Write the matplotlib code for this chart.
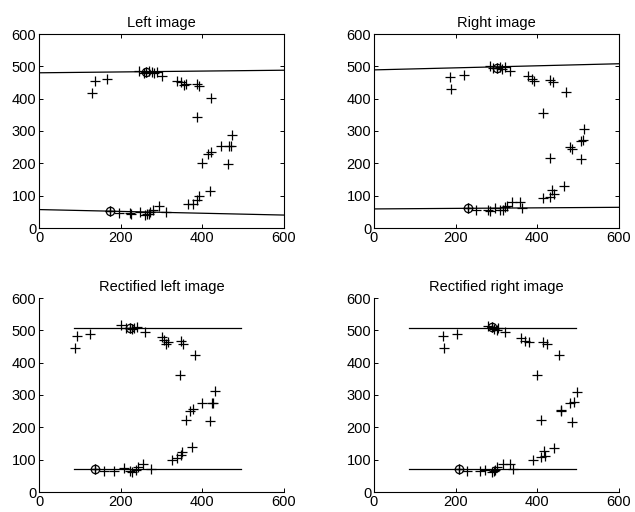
import numpy as np
import matplotlib.pyplot as plt

plt.rcParams['font.family'] = ['Liberation Sans', 'DejaVu Sans']
plt.rcParams['font.size'] = 10.5

# matched points, left image
lx = [130, 138, 167, 244, 257, 263, 270, 276, 282, 288, 300, 338, 347, 355, 359, 386, 393, 421, 387,
      473, 445, 466, 470, 420, 414, 400, 463, 418, 393, 388, 376, 366,
      173, 196, 222, 226, 247, 259, 264, 269, 273, 278, 294, 312]
ly = [418, 454, 461, 486, 480, 483, 486, 482, 478, 484, 470, 454, 452, 441, 444, 444, 439, 403, 342,
      288, 254, 254, 254, 236, 229, 200, 197, 115, 98, 87, 75, 75,
      53, 46, 45, 43, 49, 40, 42, 44, 50, 57, 67, 50]
# matched points, right image
rx = [185, 188, 220, 285, 292, 300, 308, 314, 320, 333, 378, 388, 392, 431, 439, 471, 414,
      515, 508, 513, 480, 484, 431, 506, 466, 435, 441, 432, 414,
      230, 251, 280, 285, 296, 309, 316, 321, 325, 337, 357, 363]
ry = [466, 431, 474, 500, 495, 495, 498, 493, 497, 487, 469, 461, 456, 459, 452, 420, 356,
      306, 270, 273, 250, 244, 215, 213, 131, 119, 105, 96, 92,
      61, 57, 57, 54, 63, 57, 55, 65, 67, 79, 81, 62]
# rectified left
rlx = [87, 94, 124, 202, 214, 222, 228, 233, 239, 259, 302, 307, 316, 312, 347, 353, 383, 345,
       431, 400, 423, 427, 376, 371, 359, 419, 375, 351, 347, 337, 326,
       137, 159, 184, 208, 222, 228, 237, 243, 255, 274]
rly = [445, 481, 488, 515, 508, 508, 503, 506, 510, 494, 479, 471, 463, 459, 466, 458, 423, 363,
       311, 275, 275, 275, 256, 251, 223, 220, 139, 124, 113, 106, 98,
       71, 66, 64, 74, 64, 62, 69, 77, 87, 71]
# rectified right
rrx = [169, 172, 204, 278, 288, 294, 300, 303, 320, 361, 371, 379, 414, 424, 454, 398,
       496, 480, 490, 459, 457, 410, 484, 441, 417, 418, 410, 390,
       208, 228, 259, 271, 290, 293, 296, 300, 316, 334, 341]
rry = [482, 445, 488, 513, 510, 505, 500, 507, 495, 477, 468, 465, 464, 458, 424, 363,
       310, 274, 277, 254, 249, 223, 218, 137, 126, 111, 108, 98,
       71, 64, 64, 69, 62, 66, 69, 77, 88, 88, 71]

# selected points (circled)
circ_l = ([173, 263], [53, 483])
circ_r = ([230, 300], [61, 495])
circ_rl = ([137, 222], [71, 508])
circ_rr = ([208, 288], [71, 510])

# epipolar lines (x ends, y ends)
lines_l = [([0, 600], [480, 488]), ([0, 600], [57, 40])]
lines_r = [([0, 600], [489, 508]), ([0, 600], [59, 64])]
lines_rl = [([85, 495], [507, 507]), ([85, 495], [70, 70])]
lines_rr = [([85, 495], [507, 507]), ([85, 495], [70, 70])]

fig = plt.figure(figsize=(6.35, 5.12), dpi=100)
W, H = 635.0, 512.0
boxes = [(39, 34), (374, 34), (39, 298), (374, 298)]
panels = [
    ('Left image', lx, ly, circ_l, lines_l, True),
    ('Right image', rx, ry, circ_r, lines_r, True),
    ('Rectified left image', rlx, rly, circ_rl, lines_rl, False),
    ('Rectified right image', rrx, rry, circ_rr, lines_rr, False),
]
for (px, py), (title, x, y, circ, lines, box) in zip(boxes, panels):
    ax = fig.add_axes([px / W, 1 - (py + 194) / H, 245 / W, 194 / H])
    for lxs, lys in lines:
        ax.plot(lxs, lys, color='k', lw=0.9)
    ax.plot(x, y, '+', color='k', ms=7, mew=0.9)
    ax.plot(circ[0], circ[1], 'o', mfc='none', mec='k', ms=6, mew=0.9)
    ax.plot(circ[0], circ[1], '+', color='k', ms=7, mew=0.9)
    ax.set_xlim(0, 600)
    ax.set_ylim(0, 600)
    ax.set_xticks([0, 200, 400, 600])
    ax.set_yticks([0, 100, 200, 300, 400, 500, 600])
    ax.set_title(title, fontsize=10.5, pad=5)
    ax.tick_params(direction='in', length=3, width=0.7, labelsize=10.5, pad=2)
    if box:
        ax.tick_params(top=True, right=True)
    else:
        ax.spines['top'].set_visible(False)
        ax.spines['right'].set_visible(False)
    for s in ax.spines.values():
        s.set_linewidth(0.8)

fig.savefig('out.png', dpi=100)
